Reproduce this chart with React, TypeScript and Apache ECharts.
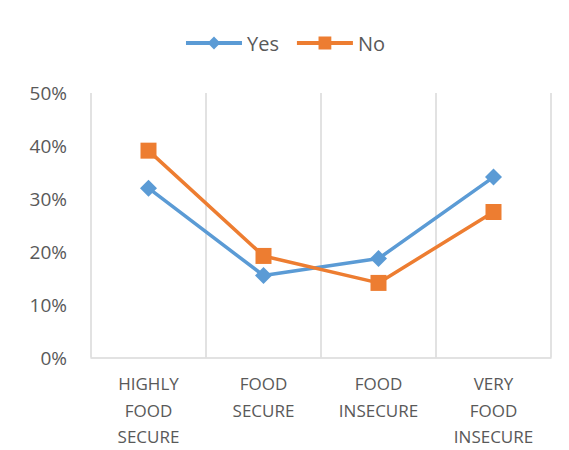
import React, { useEffect, useRef } from "react";
import * as echarts from "echarts";

const categories = ["HIGHLY\nFOOD\nSECURE", "FOOD\nSECURE", "FOOD\nINSECURE", "VERY\nFOOD\nINSECURE"];
const yesValues = [32.0, 15.5, 18.7, 34.1];
const noValues = [39.1, 19.2, 14.1, 27.5];
const seriesNames = ["Yes", "No"];

export default function App() {
  const ref = useRef<HTMLDivElement>(null);
  useEffect(() => {
    if (!ref.current) return;
    const chart = echarts.init(ref.current, null, { renderer: "svg" });
    const font = "Open Sans";
    chart.setOption({
      animation: false,
      textStyle: { fontFamily: font },
      legend: {
        top: 28,
        left: "center",
        itemWidth: 56,
        itemHeight: 16,
        itemGap: 16,
        lineStyle: { width: 4 },
        textStyle: { fontSize: 20, color: "#595959", fontFamily: font },
        data: seriesNames,
      },
      grid: { left: 91, right: 18, top: 93, bottom: 90 },
      xAxis: {
        type: "category",
        data: categories,
        boundaryGap: true,
        axisLine: { show: true, lineStyle: { color: "#D9D9D9", width: 1.5 } },
        axisTick: { show: false },
        splitLine: { show: true, lineStyle: { color: "#D9D9D9", width: 1.5 } },
        axisLabel: {
          color: "#595959",
          fontSize: 17,
          lineHeight: 26.5,
          margin: 13,
          fontFamily: font,
          interval: 0,
        },
      },
      yAxis: {
        type: "value",
        min: 0,
        max: 50,
        interval: 10,
        axisLine: { show: false },
        axisTick: { show: false },
        splitLine: { show: false },
        axisLabel: {
          formatter: "{value}%",
          color: "#595959",
          fontSize: 19,
          margin: 24,
          fontFamily: font,
        },
      },
      series: [
        {
          name: seriesNames[0],
          type: "line",
          data: yesValues,
          symbol: "diamond",
          symbolSize: 17,
          itemStyle: { color: "#5B9BD5" },
          lineStyle: { color: "#5B9BD5", width: 3.5 },
        },
        {
          name: seriesNames[1],
          type: "line",
          data: noValues,
          symbol: "rect",
          symbolSize: 16,
          itemStyle: { color: "#ED7D31" },
          lineStyle: { color: "#ED7D31", width: 3.5 },
        },
      ],
    });
    return () => chart.dispose();
  }, []);
  return <div ref={ref} style={{ width: 569, height: 450, position: "absolute", left: 0, top: 0 }} />;
}
